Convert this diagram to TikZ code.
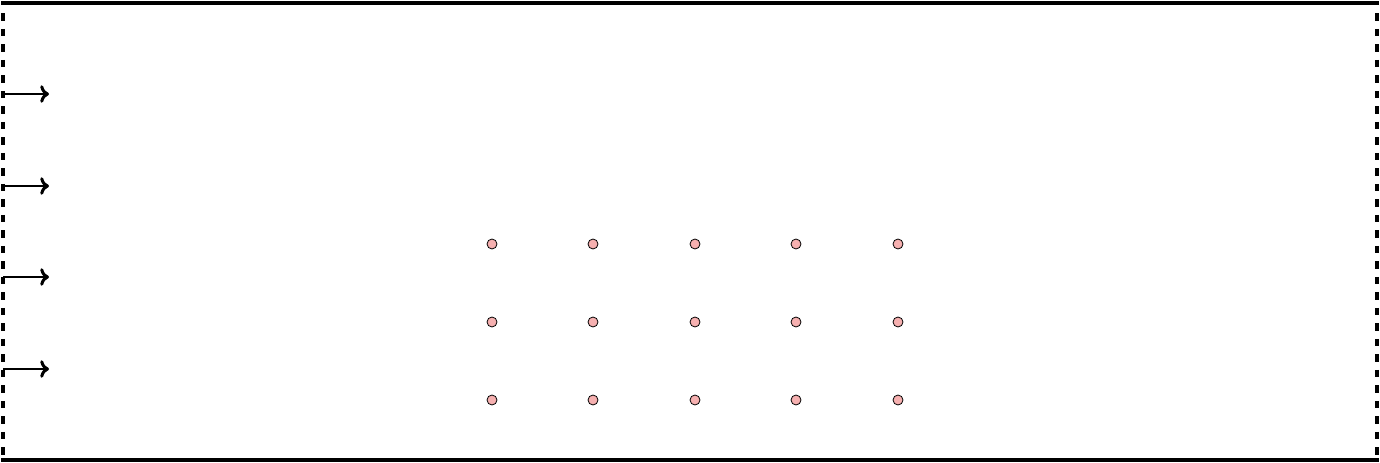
\documentclass[tikz,border=0pt]{standalone}
\usetikzlibrary{arrows.meta}
\definecolor{dotpink}{RGB}{246,176,176}
\tikzset{
  wall/.style={line width=1.8pt, line cap=rect},
  inlet/.style={line width=1.8pt, dash pattern=on 0.15cm off 0.16cm, dash phase=0.1cm},
  flow/.style={line width=1.7pt, -{To[length=5pt,width=10pt]}},
  dot/.style={circle, draw=black, line width=0.45pt, fill=dotpink, minimum size=0.2cm, inner sep=0pt}
}
\begin{document}
\begin{tikzpicture}[x=0.02cm, y=-0.02cm]
\useasboundingbox (0,0) rectangle (1380,463);
\coordinate (tl) at (3,3);
\coordinate (tr) at (1377,3);
\coordinate (bl) at (3,460);
\coordinate (br) at (1377,460);
\draw[wall] (tl) -- (tr);
\draw[wall] (bl) -- (br);
\draw[inlet] (tl) -- (bl);
\draw[inlet] (tr) -- (br);
\foreach \i/\y in {1/94, 2/186, 3/277, 4/369} {
  \coordinate (s\i) at (3,\y);
  \coordinate (e\i) at (49,\y);
  \draw[flow] (s\i) -- (e\i);
}
\foreach \c/\x in {1/492, 2/593, 3/695, 4/796, 5/898} {
  \foreach \r/\y in {1/244, 2/322, 3/400} {
    \node[dot] (d\r\c) at (\x,\y) {};
  }
}
\end{tikzpicture}
\end{document}
